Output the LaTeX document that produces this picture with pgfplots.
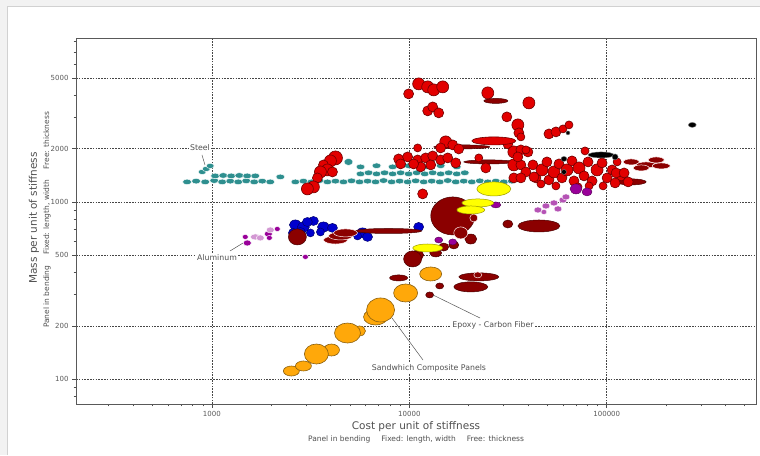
\documentclass[border=0pt]{standalone}
\usepackage{pgfplots}
\pgfplotsset{compat=1.18}
\usepackage{fontspec}
\setmainfont{DejaVu Sans}
\definecolor{tealc}{HTML}{2E8F8F}
\definecolor{redc}{HTML}{E20000}
\definecolor{redd}{HTML}{6E0000}
\definecolor{maroonc}{HTML}{8B0000}
\definecolor{maroond}{HTML}{4A0000}
\definecolor{bluec}{HTML}{0000CD}
\definecolor{blued}{HTML}{00006A}
\definecolor{purplec}{HTML}{990099}
\definecolor{purpled}{HTML}{550055}
\definecolor{lpurple}{HTML}{B553B5}
\definecolor{yellowc}{HTML}{FFFF00}
\definecolor{yellowd}{HTML}{9A9A00}
\definecolor{orangec}{HTML}{FFA80A}
\definecolor{oranged}{HTML}{8A6010}
\definecolor{labelc}{HTML}{505050}
\pgfdeclareplotmark{ell}{%
  \pgfpathellipse{\pgfpointorigin}{\pgfpoint{\bubrx pt}{0pt}}{\pgfpoint{0pt}{\bubry pt}}%
  \pgfusepathqfillstroke}
\pgfplotsset{bub/.style={only marks, mark=ell,
  visualization depends on={value \thisrow{rx}\as\bubrx},
  visualization depends on={value \thisrow{ry}\as\bubry}}}
\begin{document}
\begin{tikzpicture}[x=1pt,y=1pt]
\useasboundingbox (0,0) rectangle (760,455);
\fill[black!5] (0,0) rectangle (760,455);
\fill[white] (7,0) rectangle (760,449);
\draw[black!18] (7,0) -- (7,449) -- (760,449);
\begin{axis}[at={(76pt,51pt)}, anchor=south west, scale only axis,
  width=680pt, height=366pt,
  xmode=log, ymode=log,
  xmin=205, xmax=570000, ymin=72.6, ymax=8400,
  xtick={1000,10000,100000}, xticklabels={1000,10000,100000},
  ytick={100,200,500,1000,2000,5000}, yticklabels={100,200,500,1000,2000,5000},
  minor xtick={300,400,500,600,700,800,900,2000,3000,4000,5000,6000,7000,8000,9000,20000,30000,40000,50000,60000,70000,80000,90000,200000,300000,400000,500000},
  minor ytick={80,90,300,400,600,700,800,900,3000,4000,6000,7000,8000},
  tick align=outside, tick pos=left,
  major tick length=4pt, minor tick length=2.5pt,
  tick style={gray!60!black, line width=0.6pt},
  axis line style={draw=gray!70!black, line width=0.9pt},
  grid=major,
  major grid style={dash pattern=on 1.6pt off 1.2pt, gray!55!black, line width=0.7pt},
  ticklabel style={font=\fontsize{7}{8}\selectfont, text=gray!70!black},
]
% Steel
\addplot[bub, mark options={fill=tealc, draw=white, line width=0.45pt}] table {
x y rx ry
893 1476 4 2.6
936 1535 4 2.6
980 1596 4 2.6
749 1297 4.5 2.8
832 1310 4.5 2.8
925 1297 4.5 2.8
1027 1320 4.5 2.8
1128 1297 4.5 2.8
1239 1310 4.5 2.8
1360 1297 4.5 2.8
1493 1315 4.5 2.8
1639 1297 4.5 2.8
1800 1310 4.5 2.8
1976 1297 4.5 2.8
2222 1384 4.5 2.8
1039 1402 4.5 2.8
1141 1410 4.5 2.8
1253 1402 4.5 2.8
1376 1410 4.5 2.8
1510 1402 4.5 2.8
1659 1402 4.5 2.8
2648 1297 4.5 2.8
2908 1310 4.5 2.8
3192 1297 4.5 2.8
3505 1320 4.5 2.8
3848 1297 4.5 2.8
4226 1310 4.5 2.8
4640 1297 4.5 2.8
5095 1315 4.5 2.8
5594 1297 4.5 2.8
6142 1310 4.5 2.8
6745 1297 4.5 2.8
7404 1320 4.5 2.8
8133 1297 4.5 2.8
8929 1310 4.5 2.8
9804 1297 4.5 2.8
10765 1315 4.5 2.8
11820 1297 4.5 2.8
12980 1310 4.5 2.8
14250 1297 4.5 2.8
15650 1320 4.5 2.8
17180 1297 4.5 2.8
18860 1310 4.5 2.8
20710 1297 4.5 2.8
22750 1315 4.5 2.8
24970 1297 4.5 2.8
27420 1310 4.5 2.8
30110 1297 4.5 2.8
33060 1310 4.5 2.8
5660 1439 4.5 2.8
6215 1460 4.5 2.8
6823 1439 4.5 2.8
7492 1460 4.5 2.8
8228 1439 4.5 2.8
9034 1460 4.5 2.8
9917 1439 4.5 2.8
10890 1460 4.5 2.8
11960 1439 4.5 2.8
13130 1460 4.5 2.8
14410 1439 4.5 2.8
15830 1460 4.5 2.8
17380 1439 4.5 2.8
19090 1460 4.5 2.8
5660 1576 4.5 2.8
6823 1600 4.5 2.8
8228 1576 4.5 2.8
9917 1600 4.5 2.8
11960 1576 4.5 2.8
14410 1600 4.5 2.8
17380 1576 4.5 2.8
4918 1681 4.5 3.5
};
% Aluminum
\addplot[bub, mark options={fill=purplec, draw=white, line width=0.4pt}] table {
x y rx ry
1511 587 4 3
1476 635 3 2.5
1931 660 4 3
2145 704 3 2.5
1954 627 3 2.5
2976 490 3 2.5
};
\addplot[bub, mark options={fill=lpurple!60, draw=white, line width=0.4pt}] table {
x y rx ry
1659 635 5 3
1759 627 4 3
1976 695 4 3
};
% Blue
\addplot[bub, mark options={fill=bluec, draw=blued, line width=0.5pt}] table {
x y rx ry
2648 742 6 5
2908 723 6 5
3268 781 5 4.5
3046 771 5 4.5
2587 669 5 4.5
2807 677 5 4.5
3155 669 4 4
3673 723 6 5
4080 714 5 4.5
3546 677 4 4
5795 669 6 5
6142 635 5 4.5
5467 643 4 4
11150 723 5 4.5
};
% Epoxy / carbon fibre (maroon)
\addplot[bub, mark options={fill=maroonc, draw=maroond, line width=0.5pt}] table {
x y rx ry
16590 834 22 19
45330 732 21 6
31550 751 5 4
7851 686 33 2.5
2710 635 9 8
20480 618 6 5
16790 572 5 4
14930 557 5 4
13600 516 6 4
11020 502 6 5
10390 477 9 8
8824 373 9 3
22480 378 20 4
20480 332 17 5
14250 336 4 3
12680 299 4 3
132900 1297 15 3
18430 2043 28 2
25260 1681 25 2
27420 3712 12 2.5
};
\addplot[bub, mark options={fill=maroonc, draw=white!80!pink, line width=0.5pt}] table {
x y rx ry
18220 669 7 6
21210 812 4 4
22220 388 4 3
4226 610 12 4
4480 643 12 4
4750 669 12 4
132900 1681 8 3
158300 1617 10 3
177900 1725 8 3
188700 1596 9 3
149300 1555 8 3
};
% Red
\addplot[bub, mark options={fill=redc, draw=redd, line width=0.6pt}] table {
x y rx ry
4226 1771 7 7
3986 1703 6 6
3673 1617 5 5
3848 1515 6 6
3546 1476 6 6
4080 1476 5 5
3423 1366 5 5
3268 1215 6 6
3046 1184 6 6
11150 4630 6 6
12390 4453 6 6
13290 4282 6 6
14760 4453 6 6
9917 4065 5 5
24970 4119 6 6
40330 3617 6 6
12390 3261 5 5
13130 3434 5 5
14090 3177 5 5
31180 3016 5 5
35450 2718 6 6
35870 2450 5 5
36730 2326 4 4
50950 2418 5 5
55280 2482 5 5
59990 2580 4 4
64350 2718 4 4
15290 2180 6 6
16590 2097 5 5
14410 2016 5 5
11020 2016 4 4
17800 1990 5 5
31550 2124 5 5
33830 1914 6 6
36730 1965 5 5
39860 1914 5 5
26790 2208 22 4
8824 1748 5 5
9804 1794 5 5
11020 1725 5 5
12100 1771 5 5
13130 1817 5 5
14410 1725 5 5
15650 1771 5 5
17180 1660 5 5
11410 1576 5 5
12830 1617 5 5
9034 1638 5 5
10515 1638 5 5
22480 1771 4 4
24400 1555 5 5
33830 1617 6 6
36730 1617 5 5
35450 1794 5 5
11680 1110 5 5
77590 1939 4 4
38940 1965 4 4
38940 1476 5 5
42260 1617 5 5
43770 1366 5 5
46950 1515 6 6
49770 1681 5 5
50950 1331 5 5
54010 1476 6 6
57250 1638 5 5
59290 1366 5 5
62860 1515 6 6
66650 1703 5 5
68230 1313 5 5
72350 1555 6 6
76700 1402 5 5
80370 1681 5 5
84220 1313 5 5
89290 1515 6 6
94660 1660 5 5
100350 1366 5 5
106400 1515 5 5
112800 1681 4 4
118200 1402 5 5
128300 1297 5 5
110200 1280 5 5
81320 1231 4 4
95770 1231 4 4
71500 1215 4 4
33830 1366 5 5
42760 1384 5 5
36730 1366 5 5
111500 1457 5 5
122400 1457 5 5
55280 1231 4 4
46400 1263 4 4
};
% Black
\addplot[bub, mark options={fill=black, draw=gray, line width=0.4pt}] table {
x y rx ry
93560 1841 13 3
110200 1794 3 3
60690 1748 3 2.5
60690 1476 2.5 2.5
271000 2718 4 2.5
63600 2450 2 2
};
% Purple
\addplot[bub, mark options={fill=purplec, draw=purpled, line width=0.4pt}] table {
x y rx ry
69850 1184 6 5
79430 1139 5 4
27420 962 5 3
14090 610 4 3
16590 595 4 3
};
\addplot[bub, mark options={fill=lpurple, draw=white, line width=0.4pt}] table {
x y rx ry
44800 901 4 3
49190 949 4 3
54010 987 4 3
56590 913 4 3
59990 1026 4 3
62130 1067 4 3
48060 878 3 2.5
};
% Yellow
\addplot[bub, mark options={fill=yellowc, draw=yellowd, line width=0.5pt}] table {
x y rx ry
26790 1184 17 7
22220 987 16 4
20480 901 14 4
12390 550 15 4
};
% Sandwich composite panels
\addplot[bub, mark options={fill=orangec, draw=oranged, line width=0.6pt}] table {
x y rx ry
2527 111.4 8 5
2908 118.9 8 5
4033 146.3 8 6
3383 138.9 12 10
5594 187.3 6 5
4862 182.4 13 10
6745 224.6 12 8
7150 246.0 14 12
9577 306.7 12 9
12830 392.6 11 7
};
\end{axis}
% annotations
\draw[gray!70!black, line width=0.5pt] (202,300) -- (205,290);
\node[fill=white, inner sep=1pt, text=labelc, font=\fontsize{7.8}{9}\selectfont] at (200,307) {Steel};
\draw[gray!70!black, line width=0.5pt] (230,204) -- (243,212);
\node[fill=white, inner sep=1pt, text=labelc, font=\fontsize{7.8}{9}\selectfont] at (217,197) {Aluminum};
\draw[gray!70!black, line width=0.5pt] (433,160) -- (480,137);
\node[fill=white, inner sep=1pt, text=labelc, font=\fontsize{7.8}{9}\selectfont] at (493,130) {Epoxy - Carbon Fiber};
\draw[gray!70!black, line width=0.5pt] (392,137) -- (423,95);
\node[fill=white, inner sep=1pt, text=labelc, font=\fontsize{7.8}{9}\selectfont] at (429,87) {Sandwhich Composite Panels};
% axis titles
\node[text=labelc, font=\fontsize{10.5}{12}\selectfont] at (416,28) {Cost per unit of stiffness};
\node[text=labelc, font=\fontsize{7.5}{9}\selectfont] at (416,16) {Panel in bending\hspace{11pt}Fixed: length, width\hspace{11pt}Free: thickness};
\node[rotate=90, text=labelc, font=\fontsize{10.5}{12}\selectfont] at (34,237) {Mass per unit of stiffness};
\node[rotate=90, text=labelc, font=\fontsize{7.5}{9}\selectfont] at (47,235) {Panel in bending\hspace{11pt}Fixed: length, width\hspace{11pt}Free: thickness};
\end{tikzpicture}
\end{document}
